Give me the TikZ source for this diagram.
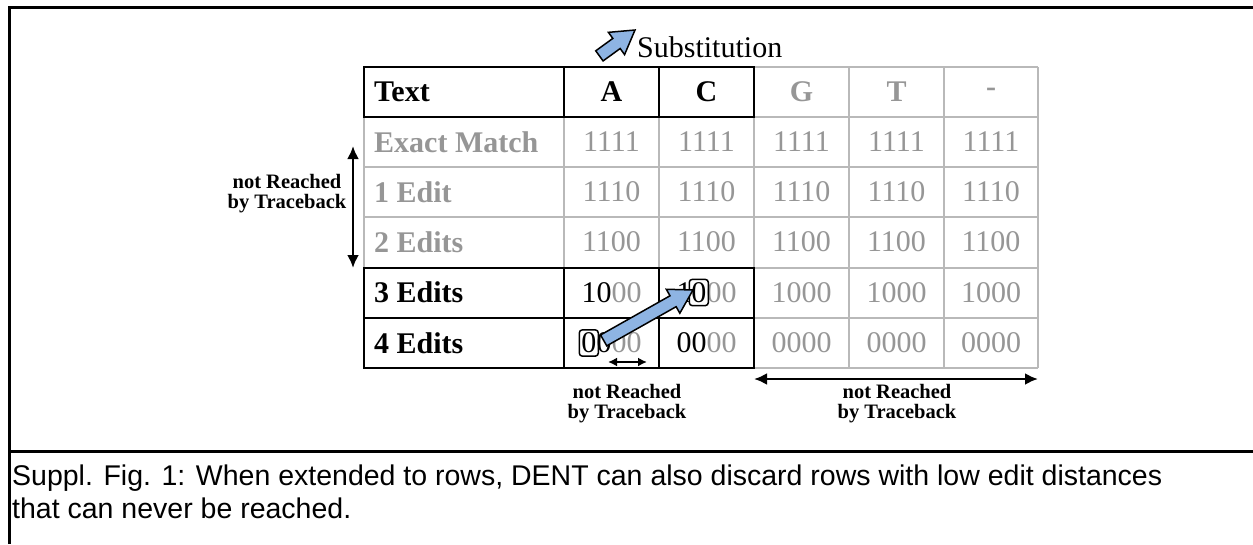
\documentclass[tikz,border=0pt]{standalone}
\usepackage{fontspec}
\setmainfont{Liberation Serif}
\newfontfamily\capfont{Liberation Sans}
\usetikzlibrary{shapes.arrows,arrows.meta,calc,positioning}
\definecolor{gridgray}{RGB}{185,185,185}
\definecolor{textgray}{RGB}{150,150,150}
\definecolor{arrowblue}{RGB}{142,180,227}
\tikzset{inner sep=0pt}

\begin{document}
\begin{tikzpicture}[x=1pt,y=-1pt,
    num/.style={font=\fontsize{30}{30}\selectfont},
    head/.style={font=\fontsize{30}{30}\selectfont\bfseries},
    rowlab/.style={head,anchor=west},
    note/.style={font=\fontsize{20.5}{20}\selectfont\bfseries,align=center},
    gridline/.style={draw=gridgray,line width=2pt},
    blackline/.style={draw=black,line width=2pt},
    hl/.style={draw,rounded corners=3pt,line width=1.5pt,inner xsep=2pt,inner ysep=3pt,
        font=\fontsize{30}{30}\selectfont,anchor=base},
    fatarrow/.style={single arrow,draw,fill=arrowblue,line width=1.5pt,inner xsep=0pt,
        inner ysep=5.5pt,single arrow head extend=7.5pt,single arrow tip angle=62},
    reach/.style={line width=2.5pt,{Latex[length=13pt,width=12pt]}-{Latex[length=13pt,width=12pt]}},
    frame/.style={line width=3pt}]
    \useasboundingbox (0,0) rectangle (1253,544);
    % outer frame
    \draw[frame] (9,544) -- (9,7) -- (1253,7);
    \draw[frame] (9,451) -- (1253,451);
    % grid
    \foreach \y in {67,117,167,217,268,318,368}
        \draw[gridline] (364,\y) -- (1038,\y);
    \foreach \x in {364,564,659,754,849,944,1038}
        \draw[gridline] (\x,67) -- (\x,368);
    \draw[blackline] (364,67) rectangle (754,117);
    \draw[blackline] (564,67) -- (564,117) (659,67) -- (659,117);
    \draw[blackline] (364,268) rectangle (754,368);
    \draw[blackline] (364,318) -- (754,318) (564,268) -- (564,368) (659,268) -- (659,368);
    % header row
    \node[rowlab] (lab-0) at (374,92) {Text};
    \foreach \c/\x/\t/\col in {1/611.5/A/black,2/706.5/C/black,3/801.5/G/textgray,
        4/896.5/T/textgray,5/991/-/textgray}
        \node[head,text=\col] (h-\c) at (\x,92) {\t};
    % unreachable rows
    \foreach \r/\y/\lab/\v in {1/142/Exact Match/1111,2/192/1 Edit/1110,3/242/2 Edits/1100}{
        \node[rowlab,text=textgray] (lab-\r) at (374,\y) {\lab};
        \foreach \c/\x in {1/611.5,2/706.5,3/801.5,4/896.5,5/991}
            \node[num,text=textgray] (v-\r-\c) at (\x,\y) {\v};
    }
    % row 3 edits
    \node[rowlab] (lab-4) at (374,292.5) {3 Edits};
    \node[num] (v-4-1) at (611.5,292.5) {10\textcolor{textgray}{00}};
    \node[num] (v-4-2) at (706.5,292.5) {1\phantom{0}\textcolor{textgray}{00}};
    \foreach \c/\x in {3/801.5,4/896.5,5/991}
        \node[num,text=textgray] (v-4-\c) at (\x,292.5) {1000};
    % row 4 edits
    \node[rowlab] (lab-5) at (374,343) {4 Edits};
    \node[num] (v-5-1) at (611.5,343) {\phantom{0}0\textcolor{textgray}{00}};
    \node[num] (v-5-2) at (706.5,343) {00\textcolor{textgray}{00}};
    \foreach \c/\x in {3/801.5,4/896.5,5/991}
        \node[num,text=textgray] (v-5-\c) at (\x,343) {0000};
    % highlighted digits
    \node[hl,xshift=7.5pt] (src) at (v-5-1.base west) {0};
    \node[hl,xshift=22.5pt] (dst) at (v-4-2.base west) {0};
    \path let \p1=($(dst.west)-(src.east)$), \n1={veclen(\x1,\y1)}, \n2={atan2(\y1,\x1)} in
        node[fatarrow,minimum height=\n1,rotate=\n2] (subst) at ($(src.east)!0.5!(dst.west)$) {};
    % legend
    \node[fatarrow,minimum height=44pt,rotate=36] (subicon) at (613,46) {};
    \node[num,anchor=base west] (sublab) at (637,57) {Substitution};
    % not reached markers
    \coordinate (lt) at (353,146);
    \coordinate (lb) at (353,268);
    \draw[reach] (lt) -- (lb);
    \node[note] (nr-left) at (287,194) {not Reached\\by Traceback};
    \coordinate (al) at (608,362);
    \coordinate (ar) at (647,362);
    \draw[line width=2pt,{Latex[length=9pt,width=9pt]}-{Latex[length=9pt,width=9pt]}] (al) -- (ar);
    \node[note] (nr-mid) at (627,404) {not Reached\\by Traceback};
    \coordinate (rl) at (754,379);
    \coordinate (rr) at (1038,379);
    \draw[reach] (rl) -- (rr);
    \node[note] (nr-right) at (897,404) {not Reached\\by Traceback};
    % caption
    \node[anchor=base west,align=left,font=\capfont\fontsize{28.5}{33}\selectfont] (cap) at (12,518)
        {Suppl. Fig. 1: When extended to rows, DENT can also discard rows with low edit distances\\
        that can never be reached.};
\end{tikzpicture}
\end{document}
